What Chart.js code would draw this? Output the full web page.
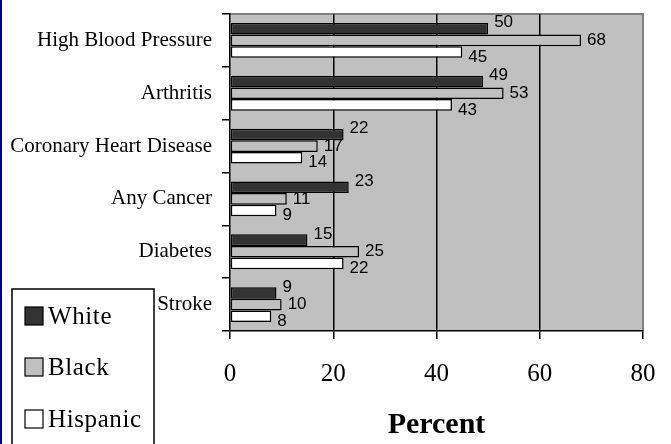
<!DOCTYPE html>
<html>
<head>
<meta charset="utf-8">
<script src="https://cdn.jsdelivr.net/npm/chart.js@4/dist/chart.umd.min.js"></script>
<style>
  html, body { margin: 0; padding: 0; background: #fff; }
  #wrap { width: 671px; height: 444px; }
</style>
</head>
<body>
<div id="wrap"><canvas id="myChart" width="671" height="444"></canvas></div>
<script>
'use strict';

const conditions = ['High Blood Pressure', 'Arthritis', 'Coronary Heart Disease', 'Any Cancer', 'Diabetes', 'Stroke'];
const groups = ['White', 'Black', 'Hispanic'];
const white = [50, 49, 22, 23, 15, 9];
const black = [68, 53, 17, 11, 25, 10];
const hispanic = [45, 43, 14, 9, 22, 8];
const xTicks = [0, 20, 40, 60, 80];

const fills = ['#333333', '#c0c0c0', '#ffffff'];
const labelDy = [-6, 0, 5];

// background, left strip, plot frame
const frame = {
  id: 'frame',
  beforeDraw(chart) {
    const ctx = chart.ctx, a = chart.chartArea;
    ctx.save();
    ctx.fillStyle = '#fff';
    ctx.fillRect(0, 0, chart.width, chart.height);
    ctx.fillStyle = '#00009c';
    ctx.fillRect(0, 0, 2, chart.height);
    ctx.fillStyle = '#c0c0c0';
    ctx.fillRect(a.left, a.top, a.right - a.left, a.bottom - a.top);
    ctx.strokeStyle = '#808080';
    ctx.lineWidth = 2;
    ctx.beginPath();
    ctx.moveTo(a.left, a.top);
    ctx.lineTo(a.right, a.top);
    ctx.lineTo(a.right, a.bottom);
    ctx.stroke();
    ctx.restore();
  }
};

// value labels next to each bar
const barLabels = {
  id: 'barLabels',
  afterDatasetsDraw(chart) {
    const ctx = chart.ctx;
    ctx.save();
    ctx.font = '17px "Liberation Sans", Arial, sans-serif';
    ctx.fillStyle = '#000';
    ctx.textAlign = 'left';
    ctx.textBaseline = 'middle';
    chart.data.datasets.forEach((ds, i) => {
      chart.getDatasetMeta(i).data.forEach((bar, j) => {
        ctx.fillText(String(ds.data[j]), bar.x + 6, bar.y + labelDy[i]);
      });
    });
    ctx.restore();
  }
};

// boxed legend in the lower left corner
const boxLegend = {
  id: 'boxLegend',
  afterDraw(chart) {
    const ctx = chart.ctx;
    ctx.save();
    ctx.fillStyle = '#fff';
    ctx.fillRect(12, 289, 142, 170);
    ctx.strokeStyle = '#000';
    ctx.lineWidth = 1.5;
    ctx.strokeRect(12, 289, 142, 170);
    const ys = [316, 367, 419];
    ctx.font = '25px "Liberation Serif", "Times New Roman", serif';
    ctx.letterSpacing = '0.6px';
    ctx.textBaseline = 'middle';
    groups.forEach((g, i) => {
      ctx.fillStyle = fills[i];
      ctx.fillRect(25, ys[i] - 9, 18, 18);
      ctx.lineWidth = 1.2;
      ctx.strokeStyle = '#000';
      ctx.strokeRect(25, ys[i] - 9, 18, 18);
      ctx.fillStyle = '#000';
      ctx.fillText(g, 48, ys[i] + 1);
    });
    ctx.restore();
  }
};

const chart_data = {
  labels: conditions,
  datasets: [white, black, hispanic].map((vals, idx) => ({
    label: groups[idx],
    data: vals,
    backgroundColor: fills[idx],
    borderColor: '#000',
    borderWidth: 1.5,
    borderSkipped: false,
    categoryPercentage: 0.66,
    barPercentage: 1.0
  }))
};

const chart_config = {
  type: 'bar',
  data: chart_data,
  plugins: [frame, barLabels, boxLegend],
  options: {
    indexAxis: 'y',
    responsive: false,
    devicePixelRatio: 1,
    animation: false,
    layout: { padding: { left: 0, right: 28, top: 14, bottom: 0 } },
    plugins: { legend: { display: false }, tooltip: { enabled: false } },
    scales: {
      x: {
        min: 0,
        max: 80,
        afterBuildTicks(scale) { scale.ticks = xTicks.map(v => ({ value: v })); },
        afterFit(scale) {
          scale.height = 113;
          scale.paddingLeft = 0;
          scale.paddingRight = 0;
        },
        grid: {
          color: ctx => (ctx.tick && (ctx.tick.value === 80 || ctx.tick.value === 0)) ? 'rgba(0,0,0,0)' : '#000',
          tickColor: '#000',
          lineWidth: 1.5,
          tickLength: 8
        },
        border: { color: '#000', width: 1.5 },
        ticks: {
          color: '#000',
          padding: 20,
          font: { family: '"Liberation Serif", "Times New Roman", serif', size: 25 }
        },
        title: {
          display: true,
          text: 'Percent',
          color: '#000',
          padding: { top: 0, bottom: 1 },
          font: { family: '"Liberation Serif", "Times New Roman", serif', size: 30, weight: 'bold' }
        }
      },
      y: {
        afterFit(scale) {
          scale.width = 230;
          scale.paddingTop = 0;
          scale.paddingBottom = 0;
        },
        grid: {
          offset: true,
          drawOnChartArea: false,
          tickColor: '#000',
          lineWidth: 1.5,
          tickLength: 8
        },
        border: { color: '#000', width: 1.5 },
        ticks: {
          color: '#000',
          padding: 10,
          font: { family: '"Liberation Serif", "Times New Roman", serif', size: 21 }
        }
      }
    }
  }
};

new Chart('myChart', chart_config);
</script>
</body>
</html>
